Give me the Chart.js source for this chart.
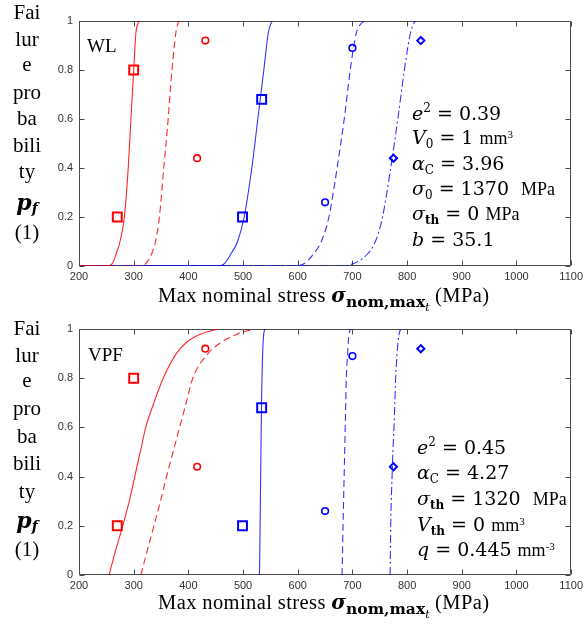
<!DOCTYPE html>
<html>
<head>
<meta charset="utf-8">
<script src="https://cdn.jsdelivr.net/npm/chart.js@4.4.1/dist/chart.umd.min.js"></script>
<style>
  html, body { margin: 0; padding: 0; background: #fff; }
  body { width: 587px; height: 627px; position: relative; overflow: hidden; }
  canvas { position: absolute; left: 0; }
  sub, sup { line-height: 0; }
  .yl { position: absolute; left: 0; width: 54px; text-align: center; font: 21px "Liberation Serif", serif; line-height: 24px; color: #000; }
  .pf { font: italic bold 22px "DejaVu Serif", serif; }
  .pf sub { font: italic bold 14px "DejaVu Serif", serif; vertical-align: -3px; }
  .xt { position: absolute; left: 158px; font: 20.5px "Liberation Serif", serif; letter-spacing: 0.4px; white-space: nowrap; line-height: 24px; color: #000; }
  .xt .sg { font: italic bold 20px "DejaVu Serif", serif; letter-spacing: 0; }
  .xt .s1 { font: bold 15.5px "DejaVu Serif", serif; letter-spacing: 0; vertical-align: -5px; line-height: 0; }
  .xt .s2 { font: italic 11px "DejaVu Serif", serif; vertical-align: -4px; line-height: 0; }
  .tag { position: absolute; font: 19px "Liberation Serif", serif; line-height: 22px; color: #000; }
  .eq { position: absolute; font: 19px "DejaVu Serif", serif; white-space: nowrap; line-height: 24px; height: 24px; color: #000; }
  .eq i { font-style: italic; }
  .eq .u { font: 18px "Liberation Serif", serif; }
  .eq .u sup { font-size: 11px; vertical-align: 6px; }
  .eq sub { font-size: 12px; vertical-align: -4px; }
  .eq sub.b { font-weight: bold; }
  .eq sup.e { font-size: 12px; vertical-align: 8px; }
</style>
</head>
<body>
<canvas id="wl" width="587" height="310" style="top:0"></canvas>
<canvas id="vpf" width="587" height="317" style="top:310px"></canvas>

<!-- axis titles and annotations, upper panel -->
<div class="yl" style="top:0px">Fai</div>
<div class="yl" style="top:27px">lur</div>
<div class="yl" style="top:52px">e</div>
<div class="yl" style="top:80px">pro</div>
<div class="yl" style="top:106px">ba</div>
<div class="yl" style="top:133px">bili</div>
<div class="yl" style="top:159px">ty</div>
<div class="yl" style="top:189px"><span class="pf">p<sub>f</sub></span></div>
<div class="yl" style="top:220px">(1)</div>
<div class="xt" style="top:283px">Max nominal stress <span class="sg">σ</span><span class="s1">nom,max<span class="s2">t</span></span> (MPa)</div>
<div class="tag" style="left:87px;top:35px">WL</div>
<div class="eq" style="left:412px;top:101px"><i>e</i><sup class="e">2</sup> = 0.39</div>
<div class="eq" style="left:412px;top:125px"><i>V</i><sub>0</sub> = 1 <span class="u">mm<sup>3</sup></span></div>
<div class="eq" style="left:412px;top:151px"><i>α</i><sub>C</sub> = 3.96</div>
<div class="eq" style="left:412px;top:176px"><i>σ</i><sub>0</sub> = 1370&nbsp; <span class="u">MPa</span></div>
<div class="eq" style="left:412px;top:201px"><i>σ</i><sub class="b">th</sub> = 0 <span class="u">MPa</span></div>
<div class="eq" style="left:412px;top:227px"><i>b</i> = 35.1</div>

<!-- axis titles and annotations, lower panel -->
<div class="yl" style="top:316px">Fai</div>
<div class="yl" style="top:343px">lur</div>
<div class="yl" style="top:368px">e</div>
<div class="yl" style="top:396px">pro</div>
<div class="yl" style="top:424px">ba</div>
<div class="yl" style="top:451px">bili</div>
<div class="yl" style="top:479px">ty</div>
<div class="yl" style="top:507px"><span class="pf">p<sub>f</sub></span></div>
<div class="yl" style="top:537px">(1)</div>
<div class="xt" style="top:590px">Max nominal stress <span class="sg">σ</span><span class="s1">nom,max<span class="s2">t</span></span> (MPa)</div>
<div class="tag" style="left:88px;top:344px">VPF</div>
<div class="eq" style="left:417px;top:435px"><i>e</i><sup class="e">2</sup> = 0.45</div>
<div class="eq" style="left:417px;top:460px"><i>α</i><sub>C</sub> = 4.27</div>
<div class="eq" style="left:417px;top:486px"><i>σ</i><sub class="b">th</sub> = 1320&nbsp; <span class="u">MPa</span></div>
<div class="eq" style="left:417px;top:512px"><i>V</i><sub class="b">th</sub> = 0 <span class="u">mm<sup>3</sup></span></div>
<div class="eq" style="left:417px;top:537px"><i>q</i> = 0.445 <span class="u">mm<sup>-3</sup></span></div>

<script>
// ---- axis ticks ----
const xTicks = [200, 300, 400, 500, 600, 700, 800, 900, 1000, 1100];
const yTicks = [0, 0.2, 0.4, 0.6, 0.8, 1];

// ---- measured failure fractions (same specimens in both panels) ----
const redSquareX = [270, 300];   const redSquareP = [0.20, 0.80];
const redCircleX = [416, 431];   const redCircleP = [0.44, 0.92];
const blueSquareX = [499, 534];  const blueSquareP = [0.20, 0.68];
const blueCircleX = [650, 700];  const blueCircleP = [0.26, 0.89];
const blueDiamondX = [775, 825]; const blueDiamondP = [0.44, 0.92];

// ---- WL model curves: stress at each probability level ----
const wlLevels     = [0,   0,   0.01, 0.05, 0.1, 0.2, 0.4, 0.6, 0.8, 0.95, 0.99, 1];
const wlRedSolid   = [200, 250, 261,  268,  275, 283, 290, 295, 300, 304,  308,  311];
const wlRedDash    = [200, 310, 322,  333,  340, 347, 355, 363, 370, 377,  381,  384];
const wlBlueSolid  = [200, 452, 466,  478,  490, 502, 516, 527, 538, 546,  551,  554];
const wlBlueDash   = [200, 592, 612,  629,  643, 657, 672, 685, 696, 707,  716,  722];
const wlBlueDashDot= [200, 672, 702,  728,  742, 755, 770, 783, 795, 806,  812,  816];

// ---- VPF model curves: stress at each probability level ----
const vpfLevels      = [0,   0.1, 0.2, 0.3, 0.4, 0.5, 0.6, 0.7, 0.8, 0.9, 0.95, 0.98, 1];
const vpfRedSolid    = [255, 267, 280, 292, 302, 312, 322, 337, 354, 378, 399,  423,  454];
const vpfRedDash     = [313, 325, 337, 349, 360, 372, 384, 396, 408, 436, 463,  490,  520];
const vpfBlueSolid   = [530, 530.6, 531.2, 531.7, 532.2, 532.7, 533.2, 533.8, 534.6, 535.8, 536.8, 537.8, 540];
const vpfBlueDash    = [681, 682, 682.8, 683.8, 684.8, 685.8, 686.8, 687.8, 688.8, 691.3, 692.5, 693.7, 697];
const vpfBlueDashDot = [769, 769.5, 770, 771, 772.5, 774, 776, 777.5, 779, 781.7, 783.5, 785.5, 788];

const RED = 'rgb(255,0,0)';
const BLUE = 'rgb(0,0,255)';
const RED_LINE = 'rgba(255,0,0,0.85)';
const BLUE_LINE = 'rgba(0,0,255,0.8)';

const pts = (xs, ys) => xs.map((x, i) => ({ x: x, y: ys[i] }));

function markers() {
  const base = { type: 'scatter', showLine: false, pointBackgroundColor: 'rgba(0,0,0,0)' };
  return [
    Object.assign({}, base, { data: pts(redSquareX, redSquareP), pointStyle: 'rect', pointRadius: 6.3, pointBorderWidth: 2, pointBorderColor: RED }),
    Object.assign({}, base, { data: pts(redCircleX, redCircleP), pointStyle: 'circle', pointRadius: 3.3, pointBorderWidth: 1.6, pointBorderColor: RED }),
    Object.assign({}, base, { data: pts(blueSquareX, blueSquareP), pointStyle: 'rect', pointRadius: 6.3, pointBorderWidth: 2, pointBorderColor: BLUE }),
    Object.assign({}, base, { data: pts(blueCircleX, blueCircleP), pointStyle: 'circle', pointRadius: 3.3, pointBorderWidth: 1.6, pointBorderColor: BLUE }),
    Object.assign({}, base, { data: pts(blueDiamondX, blueDiamondP), pointStyle: 'rectRot', pointRadius: 3.6, pointBorderWidth: 2, pointBorderColor: BLUE })
  ];
}

function curve(xs, levels, color, dash) {
  return { type: 'line', data: pts(xs, levels), borderColor: color, borderWidth: 1.1,
           borderDash: dash, pointRadius: 0, fill: false, cubicInterpolationMode: 'monotone' };
}

// box with inward tick marks on all four sides
const framePlugin = {
  id: 'frame',
  beforeDatasetsDraw(chart) {
    const { ctx, chartArea: a, scales: { x, y } } = chart;
    const L = Math.round(a.left) + 0.5, R = Math.round(a.right) - 0.5;
    const T = Math.round(a.top) + 0.5, B = Math.round(a.bottom) - 0.5;
    ctx.save();
    ctx.strokeStyle = '#4a4a4a';
    ctx.lineWidth = 1;
    ctx.beginPath();
    ctx.rect(L, T, R - L, B - T);
    xTicks.forEach(v => {
      const px = Math.round(x.getPixelForValue(v)) + 0.5;
      ctx.moveTo(px, B); ctx.lineTo(px, B - 5);
      ctx.moveTo(px, T); ctx.lineTo(px, T + 5);
    });
    yTicks.forEach(v => {
      const py = Math.round(y.getPixelForValue(v)) + 0.5;
      ctx.moveTo(L, py); ctx.lineTo(L + 5, py);
      ctx.moveTo(R, py); ctx.lineTo(R - 5, py);
    });
    ctx.stroke();
    ctx.restore();
  }
};

function makeChart(id, curves, pad) {
  const tickFont = { family: '"Liberation Sans", Arial, sans-serif', size: 11 };
  return new Chart(document.getElementById(id), {
    type: 'line',
    data: { datasets: markers().concat(curves) },
    options: {
      responsive: false,
      animation: false,
      events: [],
      layout: { padding: pad },
      plugins: { legend: { display: false }, tooltip: { enabled: false } },
      scales: {
        x: {
          type: 'linear', min: xTicks[0], max: xTicks[xTicks.length - 1],
          afterBuildTicks: s => { s.ticks = xTicks.map(v => ({ value: v })); },
          afterFit: s => { s.height = 30; },
          grid: { display: false, drawTicks: false },
          border: { display: false },
          ticks: { font: tickFont, color: '#333', padding: 4, maxRotation: 0, autoSkip: false,
                   callback: v => String(v) }
        },
        y: {
          type: 'linear', min: yTicks[0], max: yTicks[yTicks.length - 1],
          afterBuildTicks: s => { s.ticks = yTicks.map(v => ({ value: v })); },
          afterFit: s => { s.width = 79; },
          grid: { display: false, drawTicks: false },
          border: { display: false },
          ticks: { font: tickFont, color: '#333', padding: 6, autoSkip: false,
                   callback: v => String(v) }
        }
      }
    },
    plugins: [framePlugin]
  });
}

makeChart('wl', [
  curve(wlRedSolid, wlLevels, RED_LINE, []),
  curve(wlRedDash, wlLevels, RED_LINE, [7, 4]),
  curve(wlBlueSolid, wlLevels, BLUE_LINE, []),
  curve(wlBlueDash, wlLevels, BLUE_LINE, [7, 4]),
  curve(wlBlueDashDot, wlLevels, BLUE_LINE, [8, 3, 2, 3])
], { left: 0, right: 14, top: 21, bottom: 14 });

makeChart('vpf', [
  curve(vpfRedSolid, vpfLevels, RED_LINE, []),
  curve(vpfRedDash, vpfLevels, RED_LINE, [7, 4]),
  curve(vpfBlueSolid, vpfLevels, BLUE_LINE, []),
  curve(vpfBlueDash, vpfLevels, BLUE_LINE, [7, 4]),
  curve(vpfBlueDashDot, vpfLevels, BLUE_LINE, [8, 3, 2, 3])
], { left: 0, right: 14, top: 19, bottom: 22 });
</script>
</body>
</html>
